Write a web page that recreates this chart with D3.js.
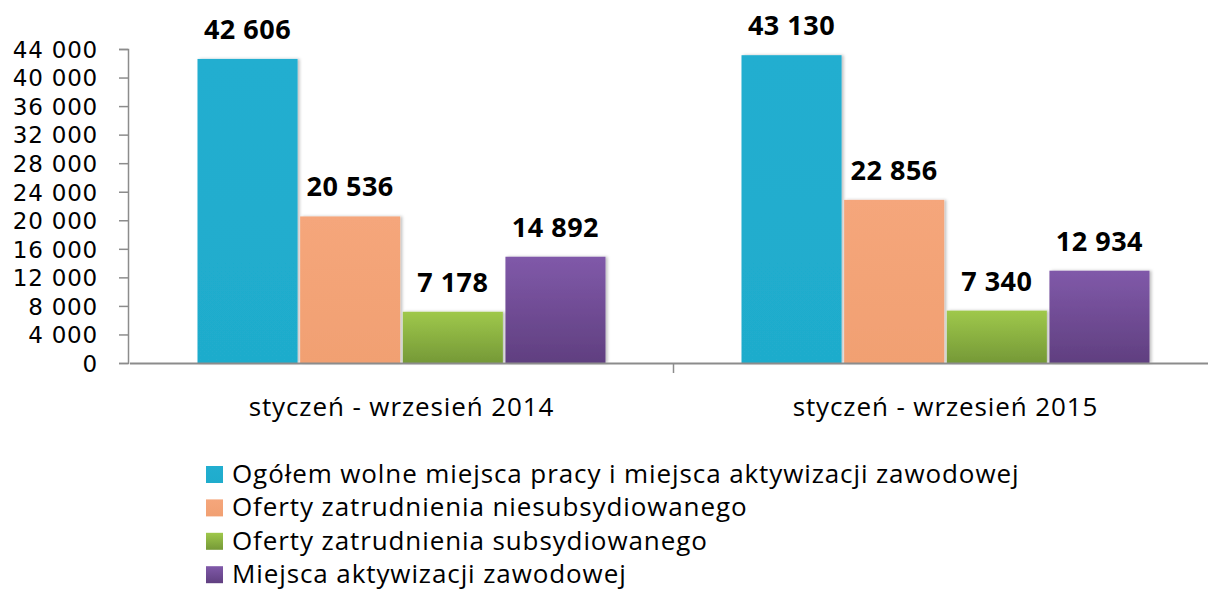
<!DOCTYPE html>
<html>
<head>
<meta charset="utf-8">
<script src="https://cdn.jsdelivr.net/npm/d3@7"></script>
<style>
  body { margin: 0; background: #fff; }
  text { font-family: "Open Sans", sans-serif; fill: #000; }
</style>
</head>
<body>
<div id="chart"></div>
<script>
const categories = ["styczeń - wrzesień 2014", "styczeń - wrzesień 2015"];
const seriesNames = [
  "Ogółem wolne miejsca pracy i miejsca aktywizacji zawodowej",
  "Oferty zatrudnienia niesubsydiowanego",
  "Oferty zatrudnienia subsydiowanego",
  "Miejsca aktywizacji zawodowej"
];
const ogolem = [42606, 43130];
const niesubsydiowane = [20536, 22856];
const subsydiowane = [7178, 7340];
const aktywizacja = [14892, 12934];
const yTicks = [0, 4000, 8000, 12000, 16000, 20000, 24000, 28000, 32000, 36000, 40000, 44000];

const seriesValues = [ogolem, niesubsydiowane, subsydiowane, aktywizacja];
const colours = [
  ["#22aed0", "#1faccc"],
  ["#f5a67b", "#f1a072"],
  ["#9fc84b", "#759937"],
  ["#8059a9", "#603f80"]
];

const width = 1208, height = 590;
const svg = d3.select("#chart").append("svg")
  .attr("width", width)
  .attr("height", height);

const defs = svg.append("defs");
colours.forEach((c, i) => {
  let g = defs.append("linearGradient")
    .attr("id", "grad" + i)
    .attr("x1", 0).attr("y1", 0).attr("x2", 0).attr("y2", 1);
  g.append("stop").attr("offset", "0%").attr("stop-color", c[0]);
  g.append("stop").attr("offset", "100%").attr("stop-color", c[1]);
});
let shadow = defs.append("filter").attr("id", "shadow")
  .attr("x", "-10%").attr("y", "-10%").attr("width", "130%").attr("height", "120%");
shadow.append("feDropShadow")
  .attr("dx", 2).attr("dy", 0).attr("stdDeviation", 1.5)
  .attr("flood-color", "#000").attr("flood-opacity", 0.25);

const x0 = d3.scaleBand()
  .domain(categories)
  .range([129.5, 1217.5])
  .paddingInner(0.25)
  .paddingOuter(0.125);

const x1 = d3.scaleBand()
  .domain(d3.range(seriesNames.length))
  .range([0, x0.bandwidth()])
  .paddingInner(0.025);

const y = d3.scaleLinear()
  .domain([0, 44000])
  .range([363, 49]);

const fmt = v => d3.format(",")(v).replace(/,/g, " ");

// y axis
const yAxis = d3.axisLeft(y)
  .tickValues(yTicks)
  .tickSize(9)
  .tickPadding(21)
  .tickFormat(fmt);

const gy = svg.append("g")
  .attr("transform", "translate(128,0)")
  .call(yAxis);
gy.select(".domain").attr("stroke", "#8c8c8c").attr("stroke-width", 1.5);
gy.selectAll(".tick line").attr("stroke", "#8c8c8c").attr("stroke-width", 1.5);
gy.selectAll(".tick text")
  .style("font-family", "'DejaVu Sans', sans-serif")
  .style("font-size", "23px")
  .style("letter-spacing", "0.8px")
  .attr("fill", "#000")
  .attr("dy", "0.36em");

// bars
const groups = svg.append("g").selectAll("g")
  .data(categories)
  .join("g")
  .attr("transform", d => `translate(${x0(d)},0)`);

groups.selectAll("rect")
  .data((d, ci) => seriesValues.map((s, si) => ({ si: si, v: s[ci] })))
  .join("rect")
  .attr("x", d => x1(d.si))
  .attr("y", d => y(d.v))
  .attr("width", x1.bandwidth())
  .attr("height", d => y(0) - y(d.v))
  .attr("fill", d => `url(#grad${d.si})`)
  .attr("filter", "url(#shadow)");

groups.selectAll("text.valueLabel")
  .data((d, ci) => seriesValues.map((s, si) => ({ si: si, v: s[ci] })))
  .join("text")
  .attr("class", "valueLabel")
  .attr("x", d => x1(d.si) + x1.bandwidth() / 2)
  .attr("y", d => y(d.v) - 20)
  .style("text-anchor", "middle")
  .style("font-size", "27px")
  .style("font-weight", "bold")
  .style("letter-spacing", "0.5px")
  .text(d => fmt(d.v));

// x axis
const xAxis = d3.axisBottom(x0)
  .tickSize(0)
  .tickPadding(0)
  .tickFormat("");

const gx = svg.append("g")
  .attr("transform", `translate(0,${y(0)})`)
  .call(xAxis);
gx.select(".domain").attr("stroke", "#8c8c8c").attr("stroke-width", 2);

// category separators
svg.append("g").selectAll("line")
  .data(categories.slice(1))
  .join("line")
  .attr("x1", d => x0(d) - x0.step() * x0.paddingInner() / 2)
  .attr("x2", d => x0(d) - x0.step() * x0.paddingInner() / 2)
  .attr("y1", y(0))
  .attr("y2", y(0) + 10)
  .attr("stroke", "#8c8c8c")
  .attr("stroke-width", 1.5);

svg.append("g").selectAll("text")
  .data(categories)
  .join("text")
  .attr("x", d => x0(d) + x0.bandwidth() / 2)
  .attr("y", 416)
  .style("text-anchor", "middle")
  .style("font-size", "26px")
  .style("letter-spacing", "0.9px")
  .text(d => d);

// legend
const legend = svg.append("g")
  .attr("transform", "translate(206,483)")
  .selectAll("g")
  .data(seriesNames)
  .join("g")
  .attr("transform", (d, i) => `translate(0,${i * 33.4})`);

legend.append("rect")
  .attr("x", 0)
  .attr("y", -17)
  .attr("width", 17)
  .attr("height", 17)
  .attr("fill", (d, i) => `url(#grad${i})`);

legend.append("text")
  .attr("x", 26)
  .attr("y", 0)
  .style("font-size", "26px")
  .style("letter-spacing", "0.9px")
  .text(d => d);
</script>
</body>
</html>
